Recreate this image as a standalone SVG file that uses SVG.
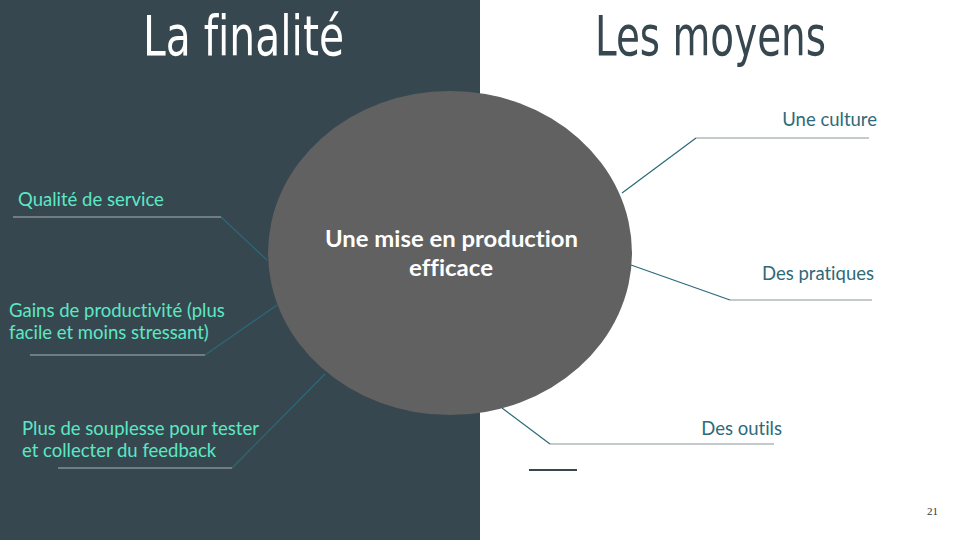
<svg xmlns="http://www.w3.org/2000/svg" width="960" height="540" viewBox="0 0 960 540">
<style>
text{font-variant-ligatures:none}
.title{font-family:"DejaVu Sans Condensed","Liberation Sans Narrow","Liberation Sans",sans-serif;font-size:56px;font-stretch:condensed}
.lt{font-family:Lato,"Liberation Sans",sans-serif;font-size:18.5px;fill:#5ce8c5}
.rt{font-family:Lato,"Liberation Sans",sans-serif;font-size:18.5px;fill:#2e6a78;text-anchor:end}
.ct{font-family:Lato,"Liberation Sans",sans-serif;font-size:23px;font-weight:bold;fill:#ffffff}
.ul{stroke:#aab4b8;stroke-width:1;fill:none}
.ulr{stroke:#8a9699;stroke-width:1;fill:none}
.cn{stroke:#2b6a78;stroke-width:1.2;fill:none}
</style>
<rect width="960" height="540" fill="#ffffff"/>
<rect x="0" y="0" width="480" height="540" fill="#37474f"/>
<text class="title" x="143" y="55" fill="#ffffff" textLength="201" lengthAdjust="spacingAndGlyphs">La finalité</text>
<text class="title" x="595" y="55" fill="#37474f" textLength="231" lengthAdjust="spacingAndGlyphs">Les moyens</text>
<g id="connectors">
<path class="cn" d="M221 217 L267 260"/>
<path class="cn" d="M205 355 L277 305"/>
<path class="cn" d="M232 468 L325 374"/>
<path class="cn" d="M696 138 L622 193"/>
<path class="cn" d="M730 300 L631 265"/>
<path class="cn" d="M550 444 L502 408"/>
</g>
<g id="center">
<ellipse cx="450" cy="253" rx="182" ry="162" fill="#616161"/>
<text class="ct" x="325" y="247" textLength="253" lengthAdjust="spacingAndGlyphs">Une mise en production</text>
<text class="ct" x="409" y="276" textLength="84" lengthAdjust="spacingAndGlyphs">efficace</text>
</g>
<g id="qualite">
<text class="lt" x="18" y="206">Qualité de service</text>
<path class="ul" d="M13 217 H221"/>
</g>
<g id="gains">
<text class="lt" x="9" y="317">Gains de productivité (plus</text>
<text class="lt" x="9" y="339">facile et moins stressant)</text>
<path class="ul" d="M30 355 H205"/>
</g>
<g id="souplesse">
<text class="lt" x="22" y="435">Plus de souplesse pour tester</text>
<text class="lt" x="22" y="457">et collecter du feedback</text>
<path class="ul" d="M58 468 H232"/>
</g>
<g id="culture">
<text class="rt" x="877" y="126">Une culture</text>
<path class="ulr" d="M696 138 H869"/>
</g>
<g id="pratiques">
<text class="rt" x="874" y="280">Des pratiques</text>
<path class="ulr" d="M730 300 H872"/>
</g>
<g id="outils">
<text class="rt" x="782" y="435">Des outils</text>
<path class="ulr" d="M550 444 H774"/>
</g>
<path d="M529 470 H577" stroke="#37474f" stroke-width="2"/>
<text x="938" y="515" font-family="'Liberation Serif',serif" font-size="11" fill="#333333" text-anchor="end">21</text>
</svg>
